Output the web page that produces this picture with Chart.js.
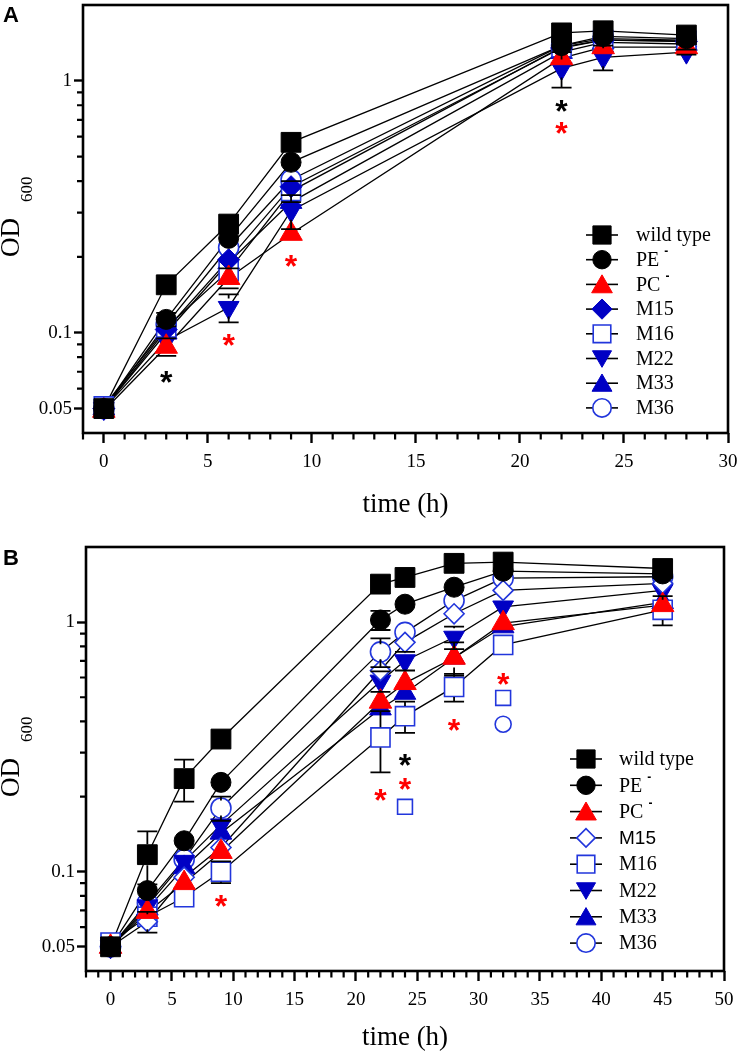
<!DOCTYPE html>
<html>
<head>
<meta charset="utf-8">
<script src="https://cdn.jsdelivr.net/npm/chart.js@4.4.1/dist/chart.umd.min.js"></script>
<style>
html,body{margin:0;padding:0;background:#fff;}
#wrap{position:relative;width:739px;height:1056px;overflow:hidden;}
.panel{position:absolute;left:0;width:739px;height:528px;}
</style>
</head>
<body>
<div id="wrap">
  <div class="panel" style="top:0px"><canvas id="chartA"></canvas></div>
  <div class="panel" style="top:528px"><canvas id="chartB"></canvas></div>
</div>
<script>
// ---------------- DATA ----------------
const legendLabels = ['wild type', 'PE', 'PC', 'M15', 'M16', 'M22', 'M33', 'M36'];
const legendSup    = ['', '-', '-', '', '', '', '', ''];

const yTickValues = [0.05, 0.1, 1];
const yTickLabels = ['0.05', '0.1', '1'];
const yMinorValues = [0.06, 0.07, 0.08, 0.09, 0.2, 0.3, 0.4, 0.5, 0.6, 0.7, 0.8, 0.9];

// Panel A
const timeA = [0, 3, 6, 9, 22, 24, 28];
const xTicksA = [0, 5, 10, 15, 20, 25, 30];
const wtA  = [0.050, 0.155, 0.270, 0.570, 1.55, 1.58, 1.52];
const peA  = [0.050, 0.113, 0.237, 0.475, 1.38, 1.50, 1.47];
const pcA  = [0.049, 0.088, 0.165, 0.247, 1.23, 1.36, 1.36];
const m15A = [0.050, 0.103, 0.195, 0.380, 1.35, 1.45, 1.43];
const m16A = [0.051, 0.105, 0.176, 0.365, 1.36, 1.45, 1.44];
const m22A = [0.050, 0.093, 0.126, 0.305, 1.12, 1.24, 1.30];
const m33A = [0.050, 0.100, 0.190, 0.330, 1.30, 1.42, 1.40];
const m36A = [0.050, 0.108, 0.218, 0.405, 1.38, 1.47, 1.45];
const wtErrA  = [0, 0, 0, 0, 0, 0, 0];
const peErrA  = [0, 0.007, 0, 0, 0, 0, 0];
const pcErrA  = [0, 0.007, 0.015, 0, 0, 0, 0];
const m15ErrA = [0, 0, 0, 0, 0, 0, 0];
const m16ErrA = [0, 0, 0, 0.035, 0, 0, 0];
const m22ErrA = [0, 0, 0.016, 0.047, 0.18, 0.14, 0.03];
const m33ErrA = [0, 0, 0, 0, 0, 0, 0];
const m36ErrA = [0, 0, 0, 0, 0, 0, 0];
const starTimeA  = [3, 6, 9, 22, 22];
const starValueA = [0.068, 0.0957, 0.196, 0.81, 0.66];
const starColorA = ['#000', 'red', 'red', '#000', 'red'];

// Panel B
const timeB = [0, 3, 6, 9, 22, 24, 28, 32, 45];
const xTicksB = [0, 5, 10, 15, 20, 25, 30, 35, 40, 45, 50];
const wtB  = [0.050, 0.117, 0.236, 0.340, 1.42, 1.51, 1.72, 1.74, 1.64];
const peB  = [0.050, 0.084, 0.133, 0.228, 1.02, 1.18, 1.38, 1.60, 1.56];
const pcB  = [0.050, 0.069, 0.090, 0.120, 0.48, 0.57, 0.72, 0.99, 1.17];
const m15B = [0.050, 0.063, 0.095, 0.125, 0.64, 0.83, 1.08, 1.34, 1.43];
const m16B = [0.052, 0.066, 0.079, 0.100, 0.345, 0.42, 0.55, 0.81, 1.12];
const m22B = [0.050, 0.073, 0.110, 0.154, 0.58, 0.70, 0.87, 1.15, 1.34];
const m33B = [0.050, 0.071, 0.104, 0.143, 0.45, 0.52, 0.72, 0.96, 1.20];
const m36B = [0.050, 0.075, 0.112, 0.180, 0.76, 0.91, 1.22, 1.50, 1.52];
const wtErrB  = [0, 0.028, 0.045, 0, 0, 0, 0, 0, 0];
const peErrB  = [0, 0, 0, 0, 0.09, 0, 0, 0, 0];
const pcErrB  = [0, 0, 0, 0, 0, 0, 0.11, 0, 0];
const m15ErrB = [0, 0.006, 0, 0, 0, 0, 0, 0, 0];
const m16ErrB = [0, 0, 0, 0.01, 0.095, 0.06, 0.07, 0, 0.15];
const m22ErrB = [0, 0, 0, 0, 0.055, 0.06, 0.09, 0, 0];
const m33ErrB = [0, 0, 0, 0, 0, 0, 0, 0, 0];
const m36ErrB = [0, 0, 0, 0.02, 0.10, 0, 0, 0, 0];
const starTimeB  = [24, 24, 22, 9, 28, 32];
const starValueB = [0.286, 0.229, 0.207, 0.078, 0.395, 0.60];
const starColorB = ['#000', 'red', 'red', 'red', 'red', 'red'];
const sigSquareTimeB  = [24, 32];
const sigSquareValueB = [0.182, 0.497];
const sigCircleTimeB  = [32];
const sigCircleValueB = [0.39];

// ---------------- STYLES ----------------
const RED = '#ff0000';
const BLUE = '#0000c4';
const BLUE_OPEN = '#2236dc';
function stylesFor(panel) {
  return [
    {shape: 'rect', r: 14, rot: 0, fill: '#000', stroke: '#000', bw: 1},
    {shape: 'circle', r: 10, rot: 0, fill: '#000', stroke: '#000', bw: 1},
    {shape: 'triangle', r: 13, rot: 0, fill: RED, stroke: RED, bw: 1},
    panel === 'A'
      ? {shape: 'rectRot', r: 11, rot: 0, fill: BLUE, stroke: BLUE, bw: 1}
      : {shape: 'rectRot', r: 10, rot: 0, fill: '#fff', stroke: BLUE_OPEN, bw: 1.6},
    {shape: 'rect', r: 13.5, rot: 0, fill: '#fff', stroke: BLUE_OPEN, bw: 1.6},
    {shape: 'triangle', r: 12, rot: 180, fill: BLUE, stroke: BLUE, bw: 1},
    {shape: 'triangle', r: 12.5, rot: 0, fill: BLUE, stroke: BLUE, bw: 1},
    {shape: 'circle', r: 10, rot: 0, fill: '#fff', stroke: BLUE_OPEN, bw: 1.6}
  ];
}

function drawMarker(ctx, s, x, y) {
  const r = s.r;
  ctx.save();
  ctx.beginPath();
  if (s.shape === 'circle') {
    ctx.arc(x, y, r, 0, Math.PI * 2);
  } else if (s.shape === 'rect') {
    const h = r * Math.SQRT1_2;
    ctx.rect(x - h, y - h, 2 * h, 2 * h);
  } else if (s.shape === 'rectRot') {
    ctx.moveTo(x - r, y); ctx.lineTo(x, y - r); ctx.lineTo(x + r, y); ctx.lineTo(x, y + r); ctx.closePath();
  } else if (s.shape === 'triangle') {
    let a = (s.rot || 0) * Math.PI / 180;
    ctx.moveTo(x + Math.sin(a) * r, y - Math.cos(a) * r);
    a += 2 * Math.PI / 3;
    ctx.lineTo(x + Math.sin(a) * r, y - Math.cos(a) * r);
    a += 2 * Math.PI / 3;
    ctx.lineTo(x + Math.sin(a) * r, y - Math.cos(a) * r);
    ctx.closePath();
  }
  ctx.fillStyle = s.fill; ctx.fill();
  ctx.lineWidth = s.bw; ctx.strokeStyle = s.stroke; ctx.stroke();
  ctx.restore();
}

// ---------------- PLUGINS ----------------
const decorPlugin = {
  id: 'decor',
  afterDatasetsDraw(chart) {
    const o = chart.options.plugins.decor;
    const ctx = chart.ctx, ys = chart.scales.y;
    // error bars
    chart.data.datasets.forEach((ds, di) => {
      if (!ds.errs) return;
      const meta = chart.getDatasetMeta(di);
      meta.data.forEach((pt, j) => {
        const e = ds.errs[j];
        if (!e) return;
        const v = ds.data[j].y;
        const px = pt.x, py = pt.y, rr = ds.pointRadius * 0.75;
        const top = ys.getPixelForValue(v + e);
        const bot = ys.getPixelForValue(Math.max(v - e, 0.001));
        ctx.save();
        ctx.strokeStyle = '#000'; ctx.lineWidth = 1.8;
        ctx.beginPath();
        if (top < py - rr) { ctx.moveTo(px, py - rr); ctx.lineTo(px, top); }
        ctx.moveTo(px - 10, top); ctx.lineTo(px + 10, top);
        if (bot > py + rr) { ctx.moveTo(px, py + rr); ctx.lineTo(px, bot); }
        ctx.moveTo(px - 10, bot); ctx.lineTo(px + 10, bot);
        ctx.stroke();
        ctx.restore();
      });
    });
    // asterisks
    const xs = chart.scales.x;
    ctx.save();
    ctx.font = 'bold 32px "Liberation Sans", Arial, sans-serif';
    ctx.textAlign = 'center'; ctx.textBaseline = 'alphabetic';
    o.starTime.forEach((t, i) => {
      ctx.fillStyle = o.starColor[i];
      ctx.fillText('*', xs.getPixelForValue(t), ys.getPixelForValue(o.starValue[i]) + 18);
    });
    ctx.restore();
  },
  afterDraw(chart) {
    const o = chart.options.plugins.decor;
    const ctx = chart.ctx, ca = chart.chartArea;
    const xs = chart.scales.x, ys = chart.scales.y;
    ctx.save();
    // frame
    ctx.strokeStyle = '#000'; ctx.lineWidth = 2.6;
    ctx.strokeRect(ca.left, ca.top, ca.right - ca.left, ca.bottom - ca.top);
    // minor ticks
    ctx.lineWidth = 2.2;
    ctx.beginPath();
    for (let t = Math.ceil(xs.min); t <= xs.max; t++) {
      if (t % 5 === 0) continue;
      const px = xs.getPixelForValue(t);
      ctx.moveTo(px, ca.bottom); ctx.lineTo(px, ca.bottom + 6.5);
    }
    yMinorValues.forEach(v => {
      const py = ys.getPixelForValue(v);
      ctx.moveTo(ca.left, py); ctx.lineTo(ca.left - 6, py);
    });
    ctx.stroke();
    // panel letter
    ctx.fillStyle = '#000';
    ctx.font = 'bold 22px "Liberation Sans", Arial, sans-serif';
    ctx.textAlign = 'left'; ctx.textBaseline = 'alphabetic';
    ctx.fillText(o.letter, 3, o.letterY);
    // y title OD 600
    ctx.save();
    const cy = (ca.top + ca.bottom) / 2;
    ctx.translate(19, cy + 38);
    ctx.rotate(-Math.PI / 2);
    ctx.font = '27px "Liberation Serif", "Times New Roman", serif';
    ctx.fillText('OD', 0, 0);
    const w = ctx.measureText('OD').width;
    ctx.font = '17px "Liberation Serif", "Times New Roman", serif';
    ctx.fillText('600', w + 16, 13);
    ctx.restore();
    // legend
    const st = o.styles;
    legendLabels.forEach((lab, i) => {
      const y = o.legY0 + o.legDy * i;
      ctx.strokeStyle = '#000'; ctx.lineWidth = 1.6;
      ctx.beginPath(); ctx.moveTo(o.legX - 16, y); ctx.lineTo(o.legX + 16, y); ctx.stroke();
      const s = Object.assign({}, st[i]);
      s.r = s.r * 0.92;
      const dy = s.shape === 'triangle' ? (s.rot ? -s.r * 0.2 : s.r * 0.2) : 0;
      drawMarker(ctx, s, o.legX, y + dy);
      ctx.fillStyle = '#000';
      ctx.textBaseline = 'middle'; ctx.textAlign = 'left';
      if (o.sansIndex === i) ctx.font = '19px "Liberation Sans", Arial, sans-serif';
      else ctx.font = '20px "Liberation Serif", "Times New Roman", serif';
      ctx.fillText(lab, o.legTextX, y + 1);
      if (legendSup[i]) {
        const lw = ctx.measureText(lab).width;
        ctx.font = 'bold 12px "Liberation Sans", Arial, sans-serif';
        ctx.fillText(legendSup[i], o.legTextX + lw + 5, y - 8);
      }
    });
    ctx.restore();
  }
};

// ---------------- BUILD ----------------
function buildDatasets(times, series, errs, styles) {
  const ds = [];
  series.forEach((vals) => {
    ds.push({
      data: times.map((t, j) => ({x: t, y: vals[j]})),
      showLine: true, borderColor: '#000', borderWidth: 1.3, pointRadius: 0,
      pointHoverRadius: 0, order: 100, fill: false, tension: 0
    });
  });
  series.forEach((vals, i) => {
    const s = styles[i];
    ds.push({
      data: times.map((t, j) => ({x: t, y: vals[j]})),
      showLine: false, pointStyle: s.shape, pointRadius: s.r, pointHoverRadius: s.r,
      rotation: s.rot, pointRotation: s.rot,
      backgroundColor: s.fill, borderColor: s.stroke, borderWidth: s.bw, pointBorderWidth: s.bw,
      order: i + 1, errs: errs[i]
    });
  });
  return ds;
}

function zeroPad(sc) {
  sc.paddingTop = 0; sc.paddingBottom = 0; sc.paddingLeft = 0; sc.paddingRight = 0;
}

function makeChart(id, cfg) {
  const styles = stylesFor(cfg.letter);
  const datasets = buildDatasets(cfg.times, cfg.series, cfg.errs, styles).concat(cfg.extra || []);
  return new Chart(document.getElementById(id), {
    type: 'scatter',
    data: {datasets},
    options: {
      responsive: true, maintainAspectRatio: false, animation: false, events: [],
      layout: {autoPadding: false, padding: {left: 0, right: cfg.padRight, top: cfg.padTop, bottom: 0}},
      plugins: {
        legend: {display: false}, tooltip: {enabled: false},
        decor: {
          letter: cfg.letter, letterY: cfg.letterY, styles,
          legX: cfg.legX, legTextX: cfg.legTextX, legY0: cfg.legY0, legDy: cfg.legDy,
          sansIndex: cfg.sansIndex,
          starTime: cfg.starTime, starValue: cfg.starValue, starColor: cfg.starColor
        }
      },
      scales: {
        x: {
          type: 'linear', min: cfg.xMin, max: cfg.xMax,
          afterBuildTicks: (sc) => { sc.ticks = cfg.xTicks.map(v => ({value: v})); },
          afterFit: (sc) => { sc.height = cfg.xAxisH; zeroPad(sc); },
          grid: {display: true, drawOnChartArea: false, drawTicks: true, tickLength: 10, tickWidth: 2.4, tickColor: '#000'},
          border: {display: false},
          ticks: {color: '#000', font: {family: '"Liberation Serif", "Times New Roman", serif', size: 19}, padding: 8, autoSkip: false, maxRotation: 0,
                  callback: (v) => String(v)},
          title: {display: true, text: 'time (h)', color: '#000', font: {family: '"Liberation Serif", "Times New Roman", serif', size: 27}, padding: {top: 0, bottom: cfg.titlePadB}}
        },
        y: {
          type: 'logarithmic', min: 0.04, max: 2,
          afterBuildTicks: (sc) => { sc.ticks = yTickValues.map(v => ({value: v})); },
          afterFit: (sc) => { sc.width = cfg.yAxisW; zeroPad(sc); },
          grid: {display: true, drawOnChartArea: false, drawTicks: true, tickLength: 9, tickWidth: 2.4, tickColor: '#000'},
          border: {display: false},
          ticks: {color: '#000', font: {family: '"Liberation Serif", "Times New Roman", serif', size: 19}, padding: 2, autoSkip: false,
                  callback: (v, i) => yTickLabels[i]},
          title: {display: false}
        }
      }
    },
    plugins: [decorPlugin]
  });
}

makeChart('chartA', {
  letter: 'A', letterY: 22, times: timeA,
  series: [wtA, peA, pcA, m15A, m16A, m22A, m33A, m36A],
  errs: [wtErrA, peErrA, pcErrA, m15ErrA, m16ErrA, m22ErrA, m33ErrA, m36ErrA],
  xMin: -1, xMax: 30, xTicks: xTicksA,
  padRight: 11, padTop: 5, yAxisW: 83, xAxisH: 95, titlePadB: 7,
  legX: 602, legTextX: 636, legY0: 235, legDy: 24.7, sansIndex: -1,
  starTime: starTimeA, starValue: starValueA, starColor: starColorA
});

makeChart('chartB', {
  letter: 'B', letterY: 37, times: timeB,
  series: [wtB, peB, pcB, m15B, m16B, m22B, m33B, m36B],
  errs: [wtErrB, peErrB, pcErrB, m15ErrB, m16ErrB, m22ErrB, m33ErrB, m36ErrB],
  xMin: -2, xMax: 50, xTicks: xTicksB,
  padRight: 15, padTop: 19, yAxisW: 86, xAxisH: 85, titlePadB: 2,
  legX: 586, legTextX: 619, legY0: 231, legDy: 26.3, sansIndex: 3,
  starTime: starTimeB, starValue: starValueB, starColor: starColorB,
  extra: [
    {data: sigSquareTimeB.map((t, j) => ({x: t, y: sigSquareValueB[j]})), showLine: false, pointStyle: 'rect',
     pointRadius: 10.5, backgroundColor: '#fff', borderColor: BLUE_OPEN, borderWidth: 1.6, order: 0},
    {data: sigCircleTimeB.map((t, j) => ({x: t, y: sigCircleValueB[j]})), showLine: false, pointStyle: 'circle',
     pointRadius: 8, backgroundColor: '#fff', borderColor: BLUE_OPEN, borderWidth: 1.6, order: 0}
  ]
});
</script>
</body>
</html>
